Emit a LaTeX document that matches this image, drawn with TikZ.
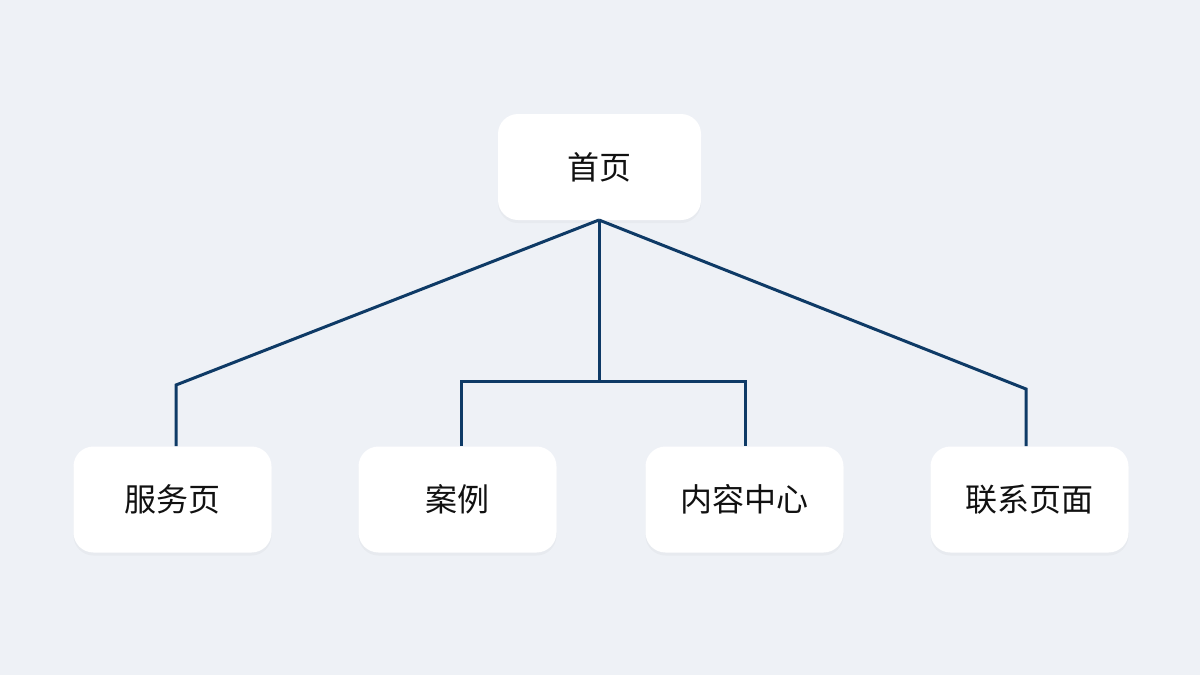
\documentclass[tikz,border=0pt]{standalone}
\usepackage{fontspec}
\newfontfamily\cjk{Noto Sans CJK SC}
\usetikzlibrary{shadows}
\definecolor{bgc}{HTML}{EEF1F6}
\definecolor{linec}{HTML}{0E3A66}
\definecolor{txtc}{HTML}{111111}
\tikzset{
  x=0.5pt, y=-0.5pt,
  pagebox/.style={rectangle, rounded corners=10pt, fill=white, draw=none,
    minimum width=99pt, minimum height=53pt, inner sep=0pt,
    font=\cjk\fontsize{16pt}{19pt}\selectfont, text=txtc,
    drop shadow={opacity=0.06, shadow xshift=0pt, shadow yshift=-1.5pt}},
  link/.style={draw=linec, line width=1.5pt, line join=miter}
}
\begin{document}
\begin{tikzpicture}
\fill[bgc] (0,0) rectangle (1200,675);
\useasboundingbox (0,0) rectangle (1200,675);
\node[pagebox, minimum width=101.5pt] (home) at (599.5,167) {首页};
\node[pagebox] (svc) at (172.5,499.5) {服务页};
\node[pagebox] (case) at (457.5,499.5) {案例};
\node[pagebox] (cont) at (744.5,499.5) {内容中心};
\node[pagebox] (contact) at (1029.5,499.5) {联系页面};
\coordinate (top) at (599,220);
\coordinate (bl) at (176,385);
\coordinate (br) at (1026,389);
\coordinate (mid) at (599,381);
\coordinate (ml) at (461,381);
\coordinate (mr) at (745,381);
\draw[link] (top) -- (bl) -- (bl |- svc.north);
\draw[link] (top) -- (br) -- (br |- contact.north);
\draw[link] (top) -- (mid);
\draw[link] (ml |- case.north) -- (ml) -- (mr) -- (mr |- cont.north);
\end{tikzpicture}
\end{document}
